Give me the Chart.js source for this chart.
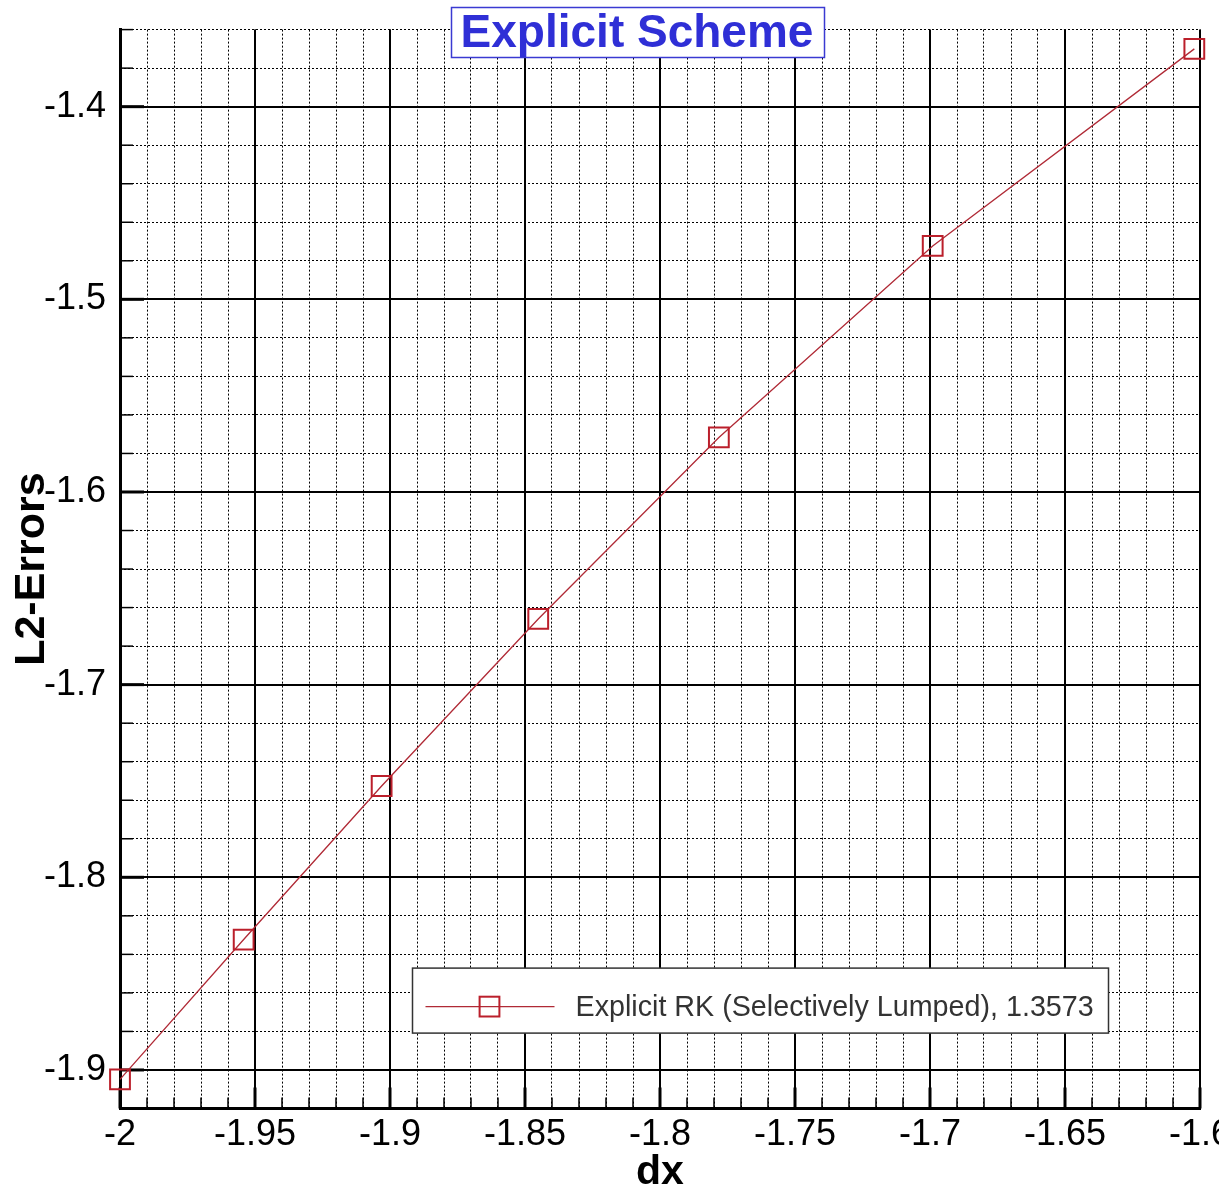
<!DOCTYPE html>
<html>
<head>
<meta charset="utf-8">
<script src="https://cdn.jsdelivr.net/npm/chart.js@4.4.1/dist/chart.umd.min.js"></script>
<style>
  html, body { margin: 0; padding: 0; background: #fff; }
  #wrap { width: 1219px; height: 1193px; position: relative; }
</style>
</head>
<body>
<div id="wrap"><canvas id="c" width="1219" height="1193"></canvas></div>
<script>
// ---- chart content ----
const TITLE = 'Explicit Scheme';
const X_LABEL = 'dx';
const Y_LABEL = 'L2-Errors';
const SERIES_LABEL = 'Explicit RK (Selectively Lumped), 1.3573';

// log10 of grid spacing and of the L2 error
const LOG_DX = [-2.0, -1.9542, -1.9031, -1.8451, -1.7782, -1.6990, -1.6021];
const L2_ERRORS = [-1.9049, -1.8323, -1.7526, -1.6659, -1.5717, -1.4723, -1.3700];

// axes
const X_RANGE = [-2, -1.6];
const Y_RANGE = [-1.92, -1.36];
const X_TICKS = [-2, -1.95, -1.9, -1.85, -1.8, -1.75, -1.7, -1.65, -1.6];
const Y_TICKS = [-1.9, -1.8, -1.7, -1.6, -1.5, -1.4];
const X_MINOR_STEP = 0.01;
const Y_MINOR_STEP = 0.02;

const RED = '#bb1f2b';
const FONT = '"Liberation Sans", Arial, Helvetica, sans-serif';
Chart.defaults.font.family = FONT;

const fmt = v => String(+Number(v).toFixed(2));

// keep the plot frame fixed: no extra room reserved for overhanging end labels
const noEdgePadding = s => {
  s.paddingLeft = 0; s.paddingRight = 0; s.paddingTop = 0; s.paddingBottom = 0;
};

// short tick marks pointing into the plot from the left and bottom axes
const innerTicks = {
  id: 'innerTicks',
  beforeDatasetsDraw(chart) {
    const { ctx, chartArea: a, scales } = chart;
    ctx.save();
    ctx.strokeStyle = '#000';
    ctx.lineCap = 'butt';
    const hTicks = (scale, len, w) => {
      ctx.lineWidth = w;
      scale.ticks.forEach(t => {
        const px = scale.getPixelForValue(t.value);
        ctx.beginPath(); ctx.moveTo(px, a.bottom); ctx.lineTo(px, a.bottom - len); ctx.stroke();
      });
    };
    const vTicks = (scale, len, w) => {
      ctx.lineWidth = w;
      scale.ticks.forEach(t => {
        const py = scale.getPixelForValue(t.value);
        ctx.beginPath(); ctx.moveTo(a.left, py); ctx.lineTo(a.left + len, py); ctx.stroke();
      });
    };
    hTicks(scales.xMinor, 11, 1.5);
    vTicks(scales.yMinor, 13, 1.5);
    hTicks(scales.x, 21, 3);
    vTicks(scales.y, 24, 3);
    ctx.restore();
  }
};

// framed title and in-plot legend
const annotations = {
  id: 'annotations',
  afterDraw(chart) {
    const { ctx, chartArea: a } = chart;
    const ds = chart.data.datasets[0];
    ctx.save();

    // title box
    ctx.font = 'bold 46px ' + FONT;
    const tw = ctx.measureText(TITLE).width;
    const cx = a.left + 517;
    const bx = Math.round(cx - tw / 2 - 10) + 0.5, by = 7.5, bw = Math.round(tw + 20), bh = 50;
    ctx.fillStyle = '#fff';
    ctx.fillRect(bx, by, bw, bh);
    ctx.strokeStyle = '#3a3ad2';
    ctx.lineWidth = 1.5;
    ctx.strokeRect(bx, by, bw, bh);
    ctx.fillStyle = '#2f2fd6';
    ctx.textAlign = 'center';
    ctx.textBaseline = 'alphabetic';
    ctx.fillText(TITLE, cx, 47);

    // legend box
    const lx = a.left + 292.5, ly = a.top + 938.5, lw = 696, lh = 65;
    ctx.fillStyle = '#fff';
    ctx.fillRect(lx, ly, lw, lh);
    ctx.strokeStyle = '#333';
    ctx.lineWidth = 1.5;
    ctx.strokeRect(lx, ly, lw, lh);
    const rowY = ly + 38.5;
    ctx.strokeStyle = ds.borderColor;
    ctx.lineWidth = ds.borderWidth;
    ctx.beginPath(); ctx.moveTo(lx + 13, rowY); ctx.lineTo(lx + 142, rowY); ctx.stroke();
    ctx.strokeStyle = ds.pointBorderColor;
    ctx.lineWidth = ds.pointBorderWidth;
    const side = 2 * ds.pointRadius * Math.SQRT1_2;
    ctx.strokeRect(lx + 77 - side / 2, rowY - side / 2, side, side);
    ctx.fillStyle = '#333';
    ctx.font = '28.7px ' + FONT;
    ctx.textAlign = 'left';
    ctx.textBaseline = 'middle';
    ctx.fillText(ds.label, lx + 163, rowY + 1);

    ctx.restore();
  }
};

const minorGrid = { color: '#000', lineWidth: 1, drawTicks: false };

new Chart(document.getElementById('c'), {
  type: 'line',
  data: {
    datasets: [{
      label: SERIES_LABEL,
      data: LOG_DX.map((x, i) => ({ x, y: L2_ERRORS[i] })),
      xAxisID: 'x',
      yAxisID: 'y',
      borderColor: '#b02a36',
      borderWidth: 1.3,
      pointStyle: 'rect',
      pointRadius: 14,
      pointBorderWidth: 2,
      pointBorderColor: RED,
      pointBackgroundColor: 'rgba(0,0,0,0)',
      tension: 0,
      clip: false
    }]
  },
  options: {
    responsive: false,
    animation: false,
    events: [],
    layout: { padding: { top: 29.6, right: 19, left: 0, bottom: 0 }, autoPadding: false },
    plugins: { legend: { display: false }, tooltip: { enabled: false } },
    scales: {
      xMinor: {
        type: 'linear', position: 'bottom', min: X_RANGE[0], max: X_RANGE[1],
        ticks: { display: false, stepSize: X_MINOR_STEP },
        grid: minorGrid,
        border: { display: false, dash: [2, 2] },
        afterFit: s => { s.height = 0; noEdgePadding(s); }
      },
      yMinor: {
        type: 'linear', position: 'left', min: Y_RANGE[0], max: Y_RANGE[1],
        ticks: { display: false, stepSize: Y_MINOR_STEP },
        grid: minorGrid,
        border: { display: false, dash: [2, 2] },
        afterFit: s => { s.width = 0; noEdgePadding(s); }
      },
      x: {
        type: 'linear', position: 'bottom', min: X_RANGE[0], max: X_RANGE[1],
        afterBuildTicks: s => { s.ticks = X_TICKS.map(v => ({ value: v })); },
        afterFit: s => { s.height = 84.5; noEdgePadding(s); },
        grid: { color: '#000', lineWidth: 2, drawTicks: false },
        border: { display: true, color: '#000', width: 3 },
        ticks: { padding: 5, color: '#000', font: { size: 36 }, maxRotation: 0, autoSkip: false, callback: v => fmt(v) },
        title: { display: true, text: X_LABEL, color: '#000', font: { size: 41, weight: 'bold', lineHeight: 1 }, padding: { top: 0, bottom: 0 } }
      },
      y: {
        type: 'linear', position: 'left', min: Y_RANGE[0], max: Y_RANGE[1],
        afterBuildTicks: s => { s.ticks = Y_TICKS.map(v => ({ value: v })); },
        afterFit: s => { s.width = 120; noEdgePadding(s); },
        grid: { color: '#000', lineWidth: 2, drawTicks: false },
        border: { display: true, color: '#000', width: 3 },
        ticks: { padding: 14, color: '#000', font: { size: 36 }, autoSkip: false, callback: v => fmt(v) },
        title: { display: true, text: Y_LABEL, color: '#000', font: { size: 43, weight: 'bold', lineHeight: 1.2 }, padding: { top: 6, bottom: 0 } }
      }
    }
  },
  plugins: [innerTicks, annotations]
});
</script>
</body>
</html>
